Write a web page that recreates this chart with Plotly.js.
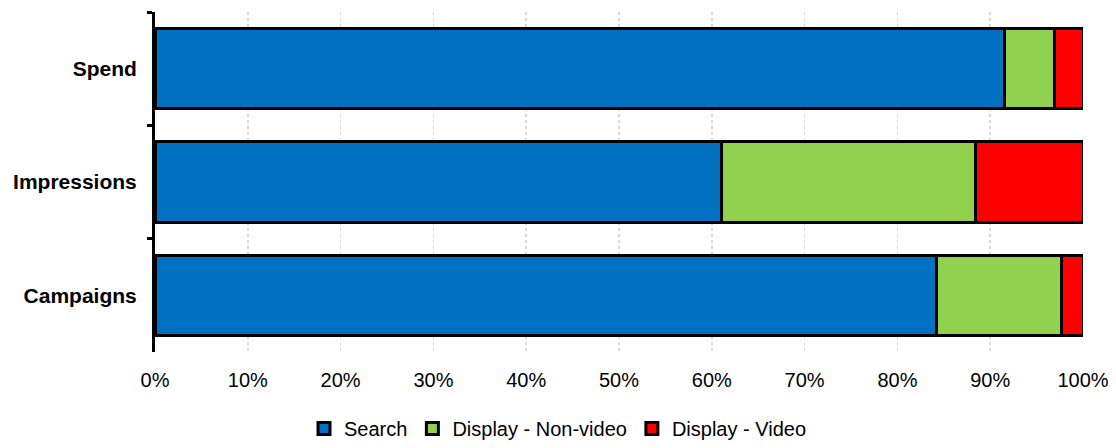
<!DOCTYPE html>
<html>
<head>
<meta charset="utf-8">
<script src="https://cdn.plot.ly/plotly-3.0.1.min.js"></script>
<style>html,body{margin:0;padding:0;background:#fff;}#chart{width:1116px;height:448px;}</style>
</head>
<body>
<div id="chart"></div>
<script>
const categories = ["Spend", "Impressions", "Campaigns"];
const seriesNames = ["Search", "Display - Non-video", "Display - Video"];
const search = [91.5, 61.0, 84.2];
const displayNonVideo = [5.4, 27.4, 13.5];
const displayVideo = [3.1, 11.6, 2.3];
const tickVals = [0, 10, 20, 30, 40, 50, 60, 70, 80, 90, 100];
const tickText = ["0%", "10%", "20%", "30%", "40%", "50%", "60%", "70%", "80%", "90%", "100%"];
const colors = ["#0070C0", "#92D050", "#FF0000"];

const values = [search, displayNonVideo, displayVideo];
const traces = values.map((v, i) => ({
  type: "bar",
  orientation: "h",
  name: seriesNames[i],
  x: v,
  y: categories,
  marker: {color: colors[i], line: {color: "#000", width: 3}},
  hoverinfo: "x+name"
}));

const layout = {
  width: 1116, height: 448,
  margin: {l: 155, r: 33, t: 12, b: 96},
  barmode: "stack",
  bargap: 0.29,
  paper_bgcolor: "#fff",
  plot_bgcolor: "#fff",
  font: {family: "Liberation Sans, Arial, sans-serif", size: 20, color: "#000"},
  xaxis: {
    range: [0, 100],
    tickvals: tickVals,
    ticktext: tickText,
    showgrid: true,
    gridcolor: "#d9d9d9",
    griddash: "dot",
    gridwidth: 1.5,
    zeroline: false,
    showline: false,
    ticks: "",
    tickfont: {size: 20},
    ticklabelstandoff: 14,
    fixedrange: true
  },
  yaxis: {
    autorange: "reversed",
    showline: true,
    linecolor: "#000",
    linewidth: 3,
    ticks: "outside",
    tickson: "boundaries",
    ticklen: 5,
    tickwidth: 3,
    tickcolor: "#000",
    showgrid: false,
    zeroline: false,
    tickfont: {size: 21, weight: "bold"},
    ticklabelstandoff: 11,
    fixedrange: true
  },
  legend: {
    orientation: "h",
    xref: "container",
    x: 0.5, xanchor: "center",
    yref: "container",
    y: -0.01, yanchor: "bottom",
    traceorder: "normal",
    font: {size: 20},
    itemwidth: 30,
    itemclick: false
  },
  showlegend: true
};

Plotly.newPlot("chart", traces, layout, {displayModeBar: false, staticPlot: true});
</script>
</body>
</html>
